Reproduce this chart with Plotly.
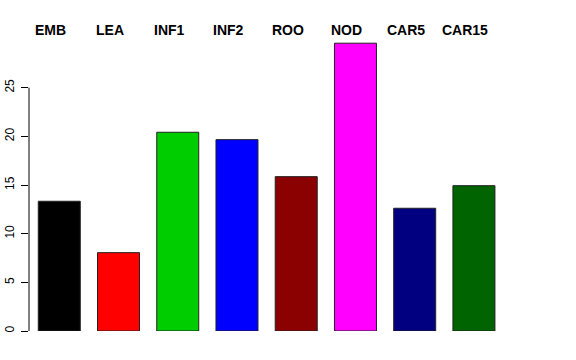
import plotly.graph_objects as go

categories = ["EMB", "LEA", "INF1", "INF2", "ROO", "NOD", "CAR5", "CAR15"]
values = [13.33, 8.05, 20.42, 19.66, 15.86, 29.57, 12.61, 14.93]
colors = ["#000000", "#FF0000", "#00CD00", "#0000FF", "#8B0000", "#FF00FF", "#000080", "#006400"]
y_ticks = [0, 5, 10, 15, 20, 25]

fig = go.Figure()
fig.add_trace(go.Bar(
    x=categories, y=values,
    marker=dict(color=colors, line=dict(color="#222222", width=1)),
    width=0.709,
    showlegend=False,
    hoverinfo="x+y",
))

for c in categories:
    fig.add_annotation(
        x=c, xref="x", y=1.0325, yref="paper",
        text="<b>%s</b>" % c, showarrow=False,
        xanchor="center", yanchor="middle", xshift=-8.5,
        font=dict(family="Liberation Sans, Arial, sans-serif", size=14, color="black"),
    )

fig.add_shape(type="line", xref="paper", x0=0, x1=0, yref="y", y0=y_ticks[0], y1=y_ticks[-1],
              line=dict(color="black", width=1))

fig.update_layout(
    width=576, height=360,
    margin=dict(l=29, r=67, t=39, b=29, autoexpand=False),
    plot_bgcolor="white", paper_bgcolor="white",
    font=dict(family="Liberation Sans, Arial, sans-serif", size=12, color="black"),
    xaxis=dict(range=[-0.511, 7.592], showticklabels=False, ticks="", showgrid=False,
               zeroline=False, showline=False, automargin=False),
    yaxis=dict(range=[0, 30], tickvals=y_ticks, ticktext=[str(v) for v in y_ticks],
               ticks="outside", ticklen=7, tickcolor="black", tickwidth=1,
               tickangle=-90, showgrid=False, zeroline=False, showline=False,
               automargin=False, ticklabelstandoff=2,
               tickfont=dict(size=12, color="black")),
)

fig.write_html("out.html", config={"displayModeBar": False},
               post_script="document.body.style.margin='0';document.body.style.overflow='hidden';")
